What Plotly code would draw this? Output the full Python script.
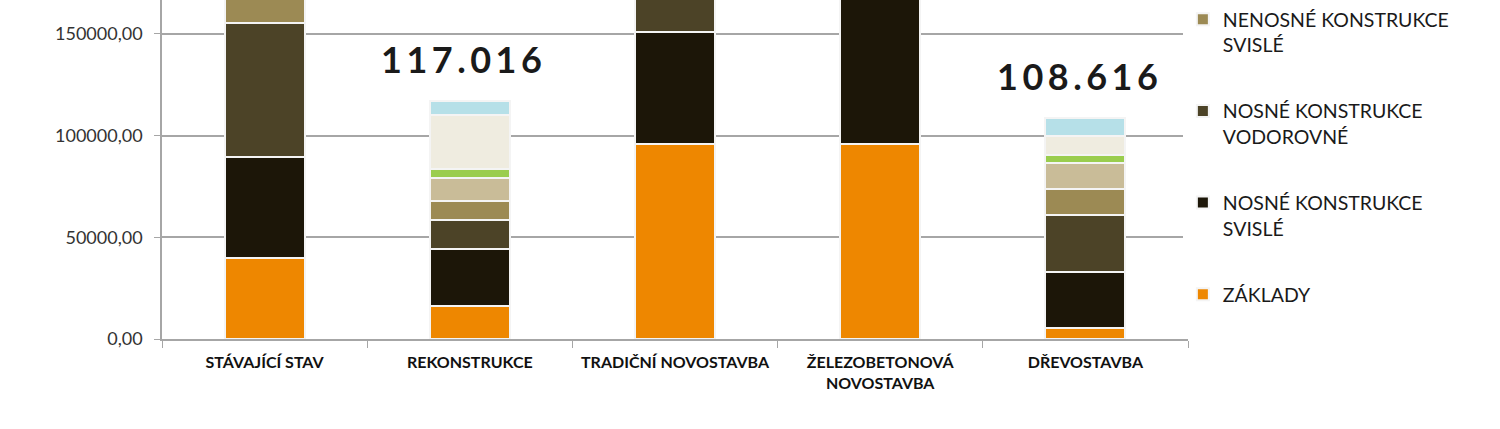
import plotly.graph_objects as go

categories = ['STÁVAJÍCÍ STAV', 'REKONSTRUKCE', 'TRADIČNÍ NOVOSTAVBA',
              'ŽELEZOBETONOVÁ<br>NOVOSTAVBA', 'DŘEVOSTAVBA']

# stacked from the bottom up
zaklady = [39950, 16190, 96030, 96030, 5640]
nosne_svisle = [49350, 28060, 54945, 82000, 27230]
nosne_vodorovne = [65980, 14360, 38000, 30000, 28210]
nenosne_svisle = [21000, 9400, 15000, 14000, 12680]
nenosne_vodorovne = [14000, 11190, 13000, 12000, 12570]
podlahy = [5000, 4460, 5000, 5000, 4260]
upravy_povrchu = [25000, 26580, 24000, 24000, 9110]
strecha = [9000, 6776, 9000, 9000, 8916]

total_labels = ['', '117.016', '', '', '108.616']

series = [
    ('ZÁKLADY', zaklady, '#EE8700'),
    ('NOSNÉ KONSTRUKCE<br>SVISLÉ', nosne_svisle, '#1C1608'),
    ('NOSNÉ KONSTRUKCE<br>VODOROVNÉ', nosne_vodorovne, '#4C4327'),
    ('NENOSNÉ KONSTRUKCE<br>SVISLÉ', nenosne_svisle, '#9C8A54'),
    ('NENOSNÉ KONSTRUKCE<br>VODOROVNÉ', nenosne_vodorovne, '#C9BC98'),
    ('PODLAHY', podlahy, '#9ACD4E'),
    ('ÚPRAVY POVRCHŮ', upravy_povrchu, '#EFECE0'),
    ('STŘECHA', strecha, '#B6E0E8'),
]

fig = go.Figure()
for i, (name, vals, color) in enumerate(series):
    # only the lower four entries of the legend are in view
    show = i < 4
    fig.add_trace(go.Bar(
        x=categories, y=vals, name=name,
        marker=dict(color=color, line=dict(color='#f4f4f4', width=2)),
        showlegend=show, legendgroup=name if show else None,
        legendrank=10 - i))

totals = [sum(v) for v in zip(*[s[1] for s in series])]
for cat, tot, lab in zip(categories, totals, total_labels):
    if lab:
        fig.add_annotation(
            x=cat, y=tot, yanchor='bottom', yshift=18, xshift=-8,
            showarrow=False, text='\u2009'.join(lab),
            font=dict(family='Lato', size=36, color='#1a1a1a', weight='bold'))

fig.update_layout(
    barmode='stack', bargap=0.61,
    width=1500, height=429,
    margin=dict(l=162, r=312, t=0, b=90),
    plot_bgcolor='white', paper_bgcolor='white',
    separators=', ',
    font=dict(family='Lato', color='#222'),
    legend=dict(x=0.995, y=1.0, xanchor='left', yanchor='top',
                traceorder='grouped', tracegroupgap=38,
                valign='top', font=dict(size=19.5, color='#1a1a1a'),
                itemwidth=30))

fig.update_yaxes(range=[0, 166700], dtick=50000, tickformat='.2f',
                 showgrid=True, gridcolor='#a6a6a6', gridwidth=1.5,
                 showline=True, linecolor='#a6a6a6', linewidth=1.5,
                 ticks='outside', ticklen=6, tickcolor='#a6a6a6',
                 ticklabelstandoff=8,
                 tickfont=dict(size=18, color='#333'), zeroline=False)
fig.update_xaxes(showline=True, linecolor='#a6a6a6', linewidth=1.5,
                 ticks='outside', tickson='boundaries', ticklen=7,
                 tickcolor='#a6a6a6', ticklabelstandoff=8,
                 tickfont=dict(size=16, color='#111', weight='bold'))

fig.write_html('out.html', config={'displayModeBar': False},
               post_script="document.body.style.margin='0';")
